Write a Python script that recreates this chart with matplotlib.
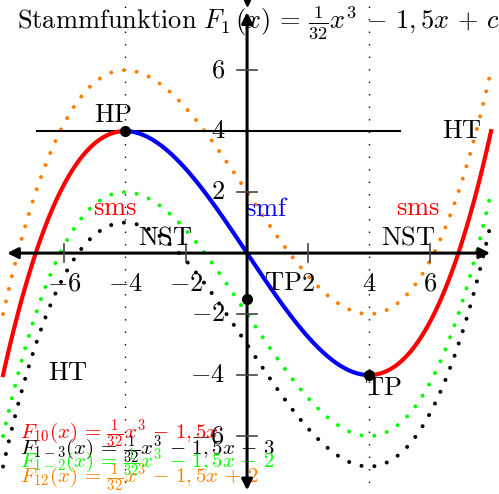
import numpy as np
import matplotlib
matplotlib.use("Agg")
import matplotlib.pyplot as plt

plt.rcParams['mathtext.fontset'] = 'cm'

# curve data: F(x) = a*x^3 + b*x + c
a = 1 / 32
b = -1.5
x_range = [-8, 8]
c_dotted = [2, -2, -3]
colors_dotted = ['#ff8000', '#00ff00', 'black']
legend_labels = [r'$F_{10}(x)\,=\,\frac{1}{32}x^3\,-\,1,5x$',
                 r'$F_{1-3}(x)\,=\,\frac{1}{32}x^3\,-\,1,5x\,-\,3$',
                 r'$F_{1-2}(x)\,=\,\frac{1}{32}x^3\,-\,1,5x\,-\,2$',
                 r'$F_{12}(x)\,=\,\frac{1}{32}x^3\,-\,1,5x\,+\,2$']
legend_colors = ['red', 'black', '#00ff00', '#ff8000']
legend_y = [-6.07, -6.62, -7.05, -7.51]
xticks = [-6, -4, -2, 2, 4, 6]
yticks = [-6, -4, -2, 2, 4, 6]
points_x = [-4, 4, 0]
points_y = [4, -4, -1.5]

# text labels (text, x, y, color)
labels = [('HP', -4.39, 4.52, 'black'), ('TP', 4.46, -4.43, 'black'),
          ('TP', 1.18, -0.98, 'black'), ('HT', 7.05, 4.0, 'black'),
          ('HT', -5.87, -3.93, 'black'), ('NST', -2.69, 0.52, 'black'),
          ('NST', 5.28, 0.52, 'black'), ('sms', -4.33, 1.48, 'red'),
          ('sms', 5.61, 1.48, 'red'), ('smf', 0.66, 1.44, 'blue')]


def F(x, c=0):
    return a * x**3 + b * x + c


fig = plt.figure(figsize=(4.99, 4.94), dpi=100)
ax = fig.add_axes([0, 0, 1, 1])
ax.set_xlim(-8.10, 8.26)
ax.set_ylim(-7.90, 8.30)
ax.axis('off')

# dotted vertical lines at extrema
for xv in [-4, 4]:
    ax.plot([xv, xv], [-8, 8.3], color='black', lw=1, ls=(0, (1, 8)))

# dotted curves
xs = np.linspace(x_range[0], x_range[1], 400)
for c, col in zip(c_dotted, colors_dotted):
    ax.plot(xs, F(xs, c), color=col, lw=2.9, ls=(0, (0.01, 3.2)),
            dash_capstyle='round', zorder=2)

# main curve: red outside, blue between extrema
xl = np.linspace(-8, -4, 100)
xm = np.linspace(-4, 4, 200)
xr = np.linspace(4, 8, 100)
ax.plot(xl, F(xl), color='red', lw=3, zorder=3)
ax.plot(xr, F(xr), color='red', lw=3, zorder=3)
ax.plot(xm, F(xm), color='blue', lw=3, zorder=3)

# horizontal tangent line
ax.plot([-6.9, 5.0], [4, 4], color='black', lw=1.5, zorder=2)

# axes with arrows
ax.annotate('', xy=(7.97, 0), xytext=(-7.87, 0),
            arrowprops=dict(arrowstyle='<|-|>', lw=2.2, color='black', mutation_scale=16, shrinkA=0, shrinkB=0), zorder=4)
ax.annotate('', xy=(0, 7.9), xytext=(0, -7.78),
            arrowprops=dict(arrowstyle='<|-|>', lw=2.2, color='black', mutation_scale=16, shrinkA=0, shrinkB=0), zorder=4)
ax.plot([0], [8.2], marker='v', color='black', ms=5)

# ticks
for t in xticks:
    if abs(t) != 4:
        ax.plot([t, t], [-0.3, 0.3], color='#444444', lw=1.2, zorder=4)
    ax.text(t, -1.0, r'$%d$' % t, ha='center', va='center', fontsize=19)
for t in yticks:
    if t != 4:
        ax.plot([-0.33, 0.33], [t, t], color='#444444', lw=1.2, zorder=4)
    ax.text(-0.72, t, r'$%d$' % t, ha='right', va='center', fontsize=19)

# special points
ax.plot(points_x, points_y, 'o', color='black', ms=7, zorder=5)

for txt, tx, ty, col in labels:
    ax.text(tx, ty, r'$\mathrm{%s}$' % txt, color=col, ha='center', va='center', fontsize=19)

ax.text(0.36, 7.57, r'$\mathrm{Stammfunktion}\ F_1\,(x)\,=\,\frac{1}{32}x^3\,-\,1,5x\,+\,c$',
        ha='center', va='center', fontsize=19)

for lab, col, ly in zip(legend_labels, legend_colors, legend_y):
    ax.text(-7.44, ly, lab, color=col, ha='left', va='baseline', fontsize=15)

fig.savefig('out.png', dpi=100)
